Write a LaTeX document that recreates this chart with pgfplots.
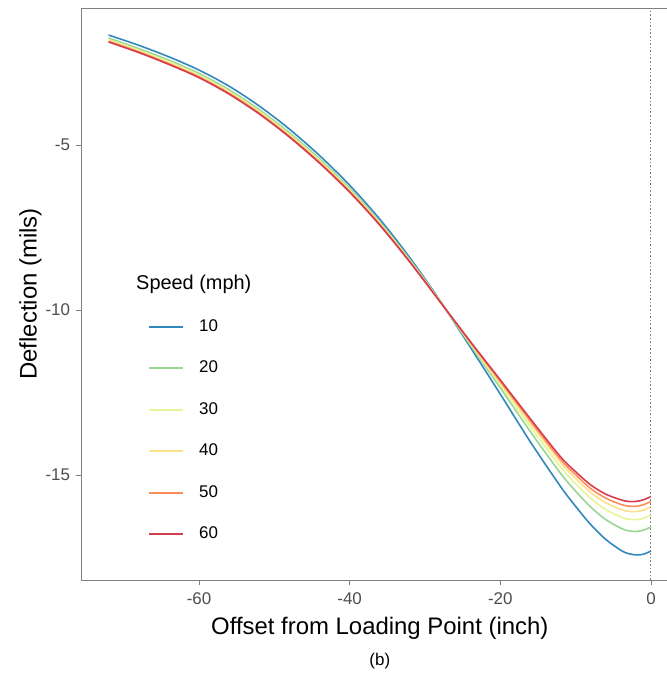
\documentclass[border=0pt]{standalone}
\usepackage{pgfplots}
\pgfplotsset{compat=1.18}
\usepackage{fontspec}
\setmainfont{Liberation Sans}
\definecolor{c10}{HTML}{3288BD}
\definecolor{c20}{HTML}{99D594}
\definecolor{c30}{HTML}{E6F598}
\definecolor{c40}{HTML}{FEE08B}
\definecolor{c50}{HTML}{FC8D59}
\definecolor{c60}{HTML}{D53E4F}
\definecolor{tickgray}{HTML}{4D4D4D}
\definecolor{framegray}{HTML}{7F7F7F}
\begin{document}
\begin{tikzpicture}
\begin{axis}[
  name=ax,
  scale only axis,
  width=596.6bp, height=572bp,
  xmin=-75.6, xmax=3.6, ymin=-18.18, ymax=-0.85,
  xtick={-60,-40,-20,0}, ytick={-15,-10,-5},
  tick pos=left, tick align=outside, major tick length=5bp,
  axis line style={framegray, line width=0.8bp},
  every tick/.style={framegray, line width=0.8bp},
  /pgf/number format/assume math mode=true,
  tick label style={font=\fontsize{17}{17}\selectfont, text=tickgray},
  xticklabel style={yshift=-4bp},
  yticklabel style={xshift=-3bp},
  every axis x label/.style={at={(axis description cs:0.5,-0.084)},anchor=center},
  every axis y label/.style={at={(axis description cs:-0.0855,0.5)},rotate=90,anchor=center},
  label style={font=\fontsize{24}{24}\selectfont},
  xlabel={Offset from Loading Point (inch)},
  ylabel={Deflection (mils)},
  legend style={at={(0.1115,0.529)}, anchor=north west, draw=none, fill=none,
    font=\fontsize{17}{17}\selectfont, row sep=26.5bp, inner sep=0pt,
    nodes={inner sep=0pt, text height=12bp, text depth=3bp},
    /tikz/every odd column/.style={column sep=15bp}},
  legend cell align=left,
  legend image code/.code={\draw[#1, line width=2bp] (0bp,0bp) -- (34bp,0bp);},
  every axis plot/.append style={line width=1.6bp, smooth},
]
\addlegendimage{empty legend}
\addlegendentry{\hspace{-63bp}\fontsize{20}{20}\selectfont Speed (mph)}
\addplot[c10] coordinates {(-72,-1.67) (-68,-1.98) (-64,-2.33) (-60,-2.73) (-56,-3.22) (-52,-3.82) (-48,-4.52) (-44,-5.32) (-40,-6.22) (-36,-7.25) (-32,-8.42) (-28,-9.72) (-24,-11.12) (-20,-12.55) (-16,-14.0) (-12,-15.35) (-10,-15.95) (-8,-16.5) (-6,-16.95) (-4,-17.28) (-3,-17.38) (-2,-17.42) (-1,-17.4) (0,-17.3)};
\addlegendentry{10}
\addplot[c20] coordinates {(-72,-1.76) (-68,-2.08) (-64,-2.43) (-60,-2.83) (-56,-3.33) (-52,-3.93) (-48,-4.63) (-44,-5.42) (-40,-6.31) (-36,-7.33) (-32,-8.48) (-28,-9.73) (-24,-11.05) (-20,-12.36) (-16,-13.69) (-12,-14.95) (-10,-15.49) (-8,-15.97) (-6,-16.35) (-4,-16.61) (-3,-16.69) (-2,-16.71) (-1,-16.67) (0,-16.57)};
\addlegendentry{20}
\addplot[c30] coordinates {(-72,-1.81) (-68,-2.13) (-64,-2.48) (-60,-2.88) (-56,-3.38) (-52,-3.98) (-48,-4.68) (-44,-5.47) (-40,-6.36) (-36,-7.37) (-32,-8.51) (-28,-9.74) (-24,-11.01) (-20,-12.27) (-16,-13.54) (-12,-14.76) (-10,-15.26) (-8,-15.71) (-6,-16.05) (-4,-16.27) (-3,-16.34) (-2,-16.35) (-1,-16.31) (0,-16.21)};
\addlegendentry{30}
\addplot[c40] coordinates {(-72,-1.84) (-68,-2.16) (-64,-2.52) (-60,-2.92) (-56,-3.41) (-52,-4.01) (-48,-4.71) (-44,-5.51) (-40,-6.39) (-36,-7.40) (-32,-8.53) (-28,-9.74) (-24,-10.98) (-20,-12.20) (-16,-13.43) (-12,-14.62) (-10,-15.10) (-8,-15.53) (-6,-15.84) (-4,-16.04) (-3,-16.10) (-2,-16.11) (-1,-16.06) (0,-15.96)};
\addlegendentry{40}
\addplot[c50] coordinates {(-72,-1.86) (-68,-2.18) (-64,-2.54) (-60,-2.94) (-56,-3.44) (-52,-4.04) (-48,-4.74) (-44,-5.53) (-40,-6.41) (-36,-7.41) (-32,-8.54) (-28,-9.75) (-24,-10.97) (-20,-12.16) (-16,-13.36) (-12,-14.53) (-10,-14.99) (-8,-15.41) (-6,-15.70) (-4,-15.89) (-3,-15.94) (-2,-15.95) (-1,-15.90) (0,-15.80)};
\addlegendentry{50}
\addplot[c60] coordinates {(-72,-1.88) (-68,-2.2) (-64,-2.56) (-60,-2.96) (-56,-3.46) (-52,-4.06) (-48,-4.76) (-44,-5.55) (-40,-6.43) (-36,-7.43) (-32,-8.55) (-28,-9.75) (-24,-10.95) (-20,-12.12) (-16,-13.3) (-12,-14.45) (-10,-14.9) (-8,-15.3) (-6,-15.58) (-4,-15.75) (-3,-15.8) (-2,-15.8) (-1,-15.75) (0,-15.65)};
\addlegendentry{60}
\addplot[gray, dotted, line width=1bp, forget plot, sharp plot] coordinates {(0,-18.18) (0,-0.85)};
\end{axis}
\node[font=\fontsize{17}{17}\selectfont] at ([yshift=-81bp]ax.south) {(b)};
\pgfresetboundingbox
\useasboundingbox ([xshift=-81.5bp,yshift=-97bp]ax.south west) rectangle ([xshift=585.5bp,yshift=8bp]ax.north west);
\end{tikzpicture}
\end{document}
